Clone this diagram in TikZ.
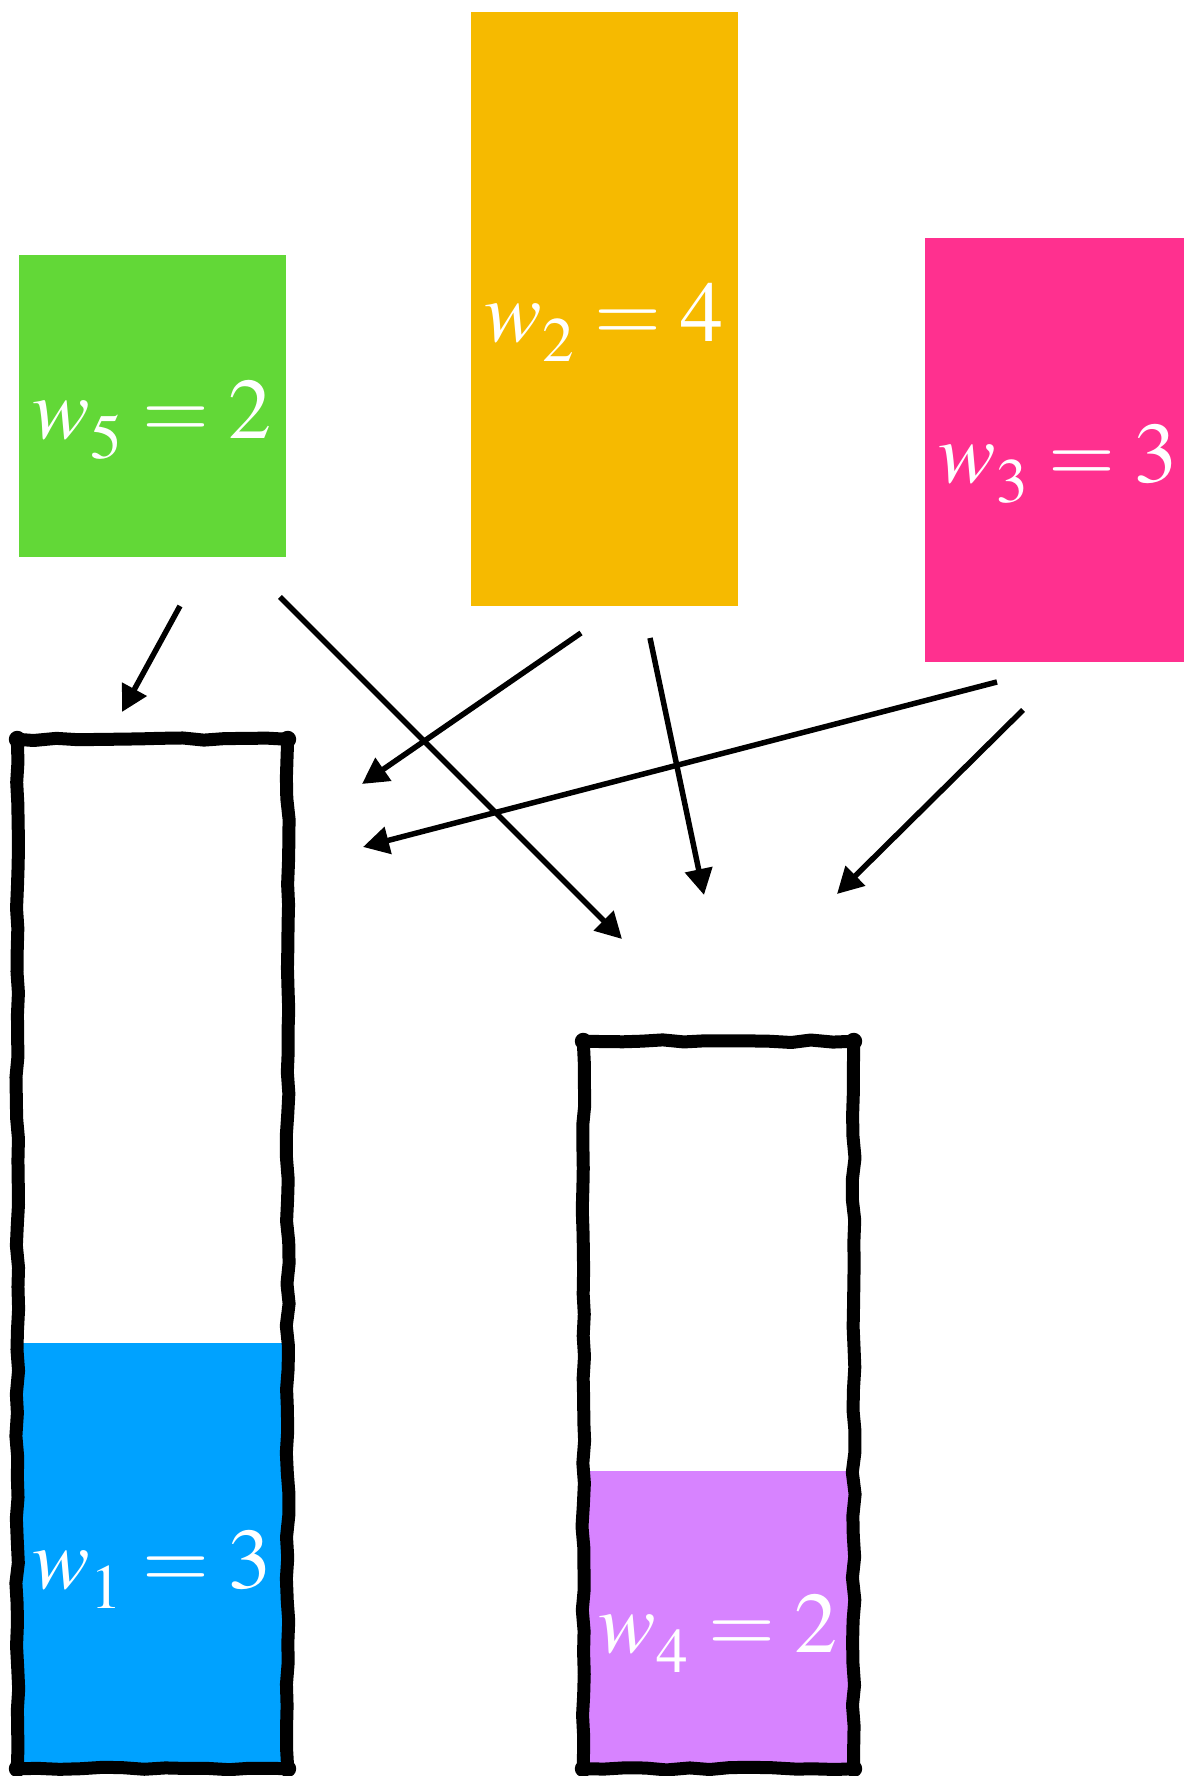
\documentclass[tikz,border=0pt]{standalone}
\usepackage{mathptmx}
\usetikzlibrary{arrows.meta, positioning, calc, decorations.pathmorphing}
\definecolor{kgreen}{HTML}{62D837}
\definecolor{kyellow}{HTML}{F6BA00}
\definecolor{kpink}{HTML}{FF308F}
\definecolor{kblue}{HTML}{00A2FF}
\definecolor{kpurple}{HTML}{D783FF}
\DeclareMathSizes{24.5}{24.5}{18}{13}
\newcommand{\wlabel}[2]{$w_{\raisebox{-2pt}{$\scriptstyle #1$}} = #2$}

\begin{document}
\pgfmathsetseed{7}
\begin{tikzpicture}[
    every node/.style={font=\fontsize{24.5}{30}\selectfont, text=white},
    weight/.style={rectangle, inner sep=0pt, minimum width=2.67cm,
                   text height=0.66cm, text depth=0cm},
    bin/.style={rectangle, inner sep=0pt, minimum width=2.69cm},
    binedge/.style={line width=0.13cm, line join=round, line cap=round, decorate,
                    decoration={random steps, segment length=6pt, amplitude=0.4pt}},
    arr/.style={-{Triangle[length=0.26cm, width=0.27cm]}, line width=0.055cm}
]
\useasboundingbox (0,0) rectangle (11.84,17.76);

% Items
\node[weight, fill=kgreen, minimum height=3.02cm] (w5) at (1.525,13.70) {\wlabel{5}{2}};
\node[weight, fill=kyellow, minimum height=5.94cm] (w2) at (6.045,14.67) {\wlabel{2}{4}};
\node[weight, fill=kpink, minimum height=4.24cm] (w3) at (10.585,13.26) {\wlabel{3}{3}};

% Bins
\node[bin, minimum height=10.28cm] (bin1) at (1.525,5.22) {};
\node[bin, minimum height=7.26cm] (bin2) at (7.185,3.71) {};

\node[weight, fill=kblue, minimum width=2.69cm, minimum height=4.25cm,
      anchor=south] (w1) at (bin1.south) {\wlabel{1}{3}};
\node[weight, fill=kpurple, minimum width=2.69cm, minimum height=2.97cm,
      anchor=south] (w4) at (bin2.south) {\wlabel{4}{2}};

\foreach \b in {bin1, bin2} {
    \draw[binedge] (\b.south west) -- (\b.south east) -- (\b.north east)
        -- (\b.north west) -- cycle;
    \foreach \c in {north west, north east, south west, south east}
        \fill (\b.\c) circle (0.085cm);
}

% Arrow ends
\coordinate (w5-1) at (1.80,11.70);
\coordinate (w5-2) at (2.80,11.79);
\coordinate (w2-1) at (5.81,11.43);
\coordinate (w2-2) at (6.50,11.38);
\coordinate (w3-1) at (9.97,10.94);
\coordinate (w3-2) at (10.23,10.66);
\coordinate (bin1-a) at (1.22,10.64);
\coordinate (bin1-b) at (3.62,9.92);
\coordinate (bin1-c) at (3.63,9.29);
\coordinate (bin2-a) at (6.22,8.37);
\coordinate (bin2-b) at (7.04,8.81);
\coordinate (bin2-c) at (8.37,8.82);

% Arrows
\draw[arr] (w5-1) -- (bin1-a);
\draw[arr] (w5-2) -- (bin2-a);
\draw[arr] (w2-1) -- (bin1-b);
\draw[arr] (w2-2) -- (bin2-b);
\draw[arr] (w3-1) -- (bin1-c);
\draw[arr] (w3-2) -- (bin2-c);

\end{tikzpicture}
\end{document}
